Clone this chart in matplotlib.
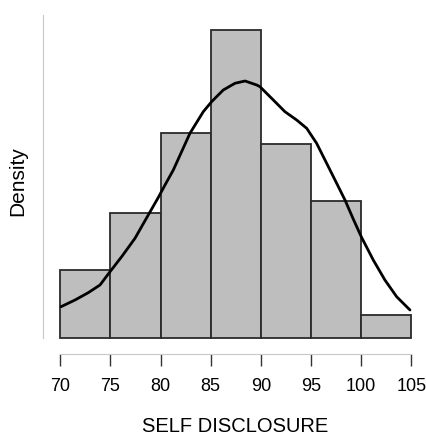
import matplotlib
matplotlib.use("Agg")
import matplotlib.pyplot as plt

bin_edges = [70, 75, 80, 85, 90, 95, 100, 105]
counts = [6, 11, 18, 27, 17, 12, 2]
tick_values = [70, 75, 80, 85, 90, 95, 100, 105]
tick_labels = ["70", "75", "80", "85", "90", "95", "100", "105"]

# density curve (x value, density)
curve_x = [70.07, 71.47, 72.79, 73.96, 74.96, 76.12, 77.45, 78.77, 79.77, 80.44,
           81.27, 82.93, 84.26, 85.09, 86.25, 87.42, 88.42, 89.58, 89.91, 90.74,
           91.24, 92.40, 93.57, 94.57, 95.56, 96.56, 97.56, 98.39, 99.21, 100.05,
           101.21, 102.37, 103.54, 104.87]
curve_y = [0.00590, 0.00717, 0.00855, 0.01000, 0.01251, 0.01534, 0.01881, 0.02320,
           0.02650, 0.02886, 0.03169, 0.03862, 0.04269, 0.04458, 0.04678, 0.04805,
           0.04848, 0.04773, 0.04741, 0.04584, 0.04490, 0.04269, 0.04112, 0.03956,
           0.03673, 0.03296, 0.02918, 0.02603, 0.02245, 0.01896, 0.01471, 0.01094,
           0.00779, 0.00528]

total = sum(counts)
width = 5
density = [c / (total * width) for c in counts]

fig = plt.figure(figsize=(4.26, 4.42), dpi=100)
xl = (68.275, 105.87)
yl = (-0.00302, 0.06093)
ax = fig.add_axes([43 / 426, (442 - 354) / 442, 377 / 426, 339 / 442])
ax.bar(bin_edges[:-1], density, width=width, align="edge",
       color="#bebebe", edgecolor="#2a2a2a", linewidth=1.3, zorder=2)
ax.plot(curve_x, curve_y, color="black", linewidth=2.0, zorder=3,
        solid_capstyle="round", solid_joinstyle="round")
ax.set_xlim(*xl)
ax.set_ylim(*yl)

for s in ["top", "right"]:
    ax.spines[s].set_visible(False)
ax.spines["left"].set_color("#c8c8c8")
ax.spines["bottom"].set_color("#c8c8c8")
ax.spines["left"].set_bounds(0, yl[1])
ax.spines["bottom"].set_bounds(70, 105)
ax.set_yticks([])
ax.set_xticks(tick_values)
fam = ["Liberation Sans", "DejaVu Sans"]
ax.set_xticklabels(tick_labels, family=fam, fontsize=13)
ax.tick_params(axis="x", length=8.6, width=1.0, color="#333333", pad=9)

fig.text(235 / 426, 1 - 427 / 442, "SELF DISCLOSURE", family=fam,
         fontsize=14.5, ha="center", va="center")
fig.text(18 / 426, 1 - 181 / 442, "Density", family=fam,
         fontsize=15, rotation=90, ha="center", va="center")

fig.savefig("out.png", dpi=100)
